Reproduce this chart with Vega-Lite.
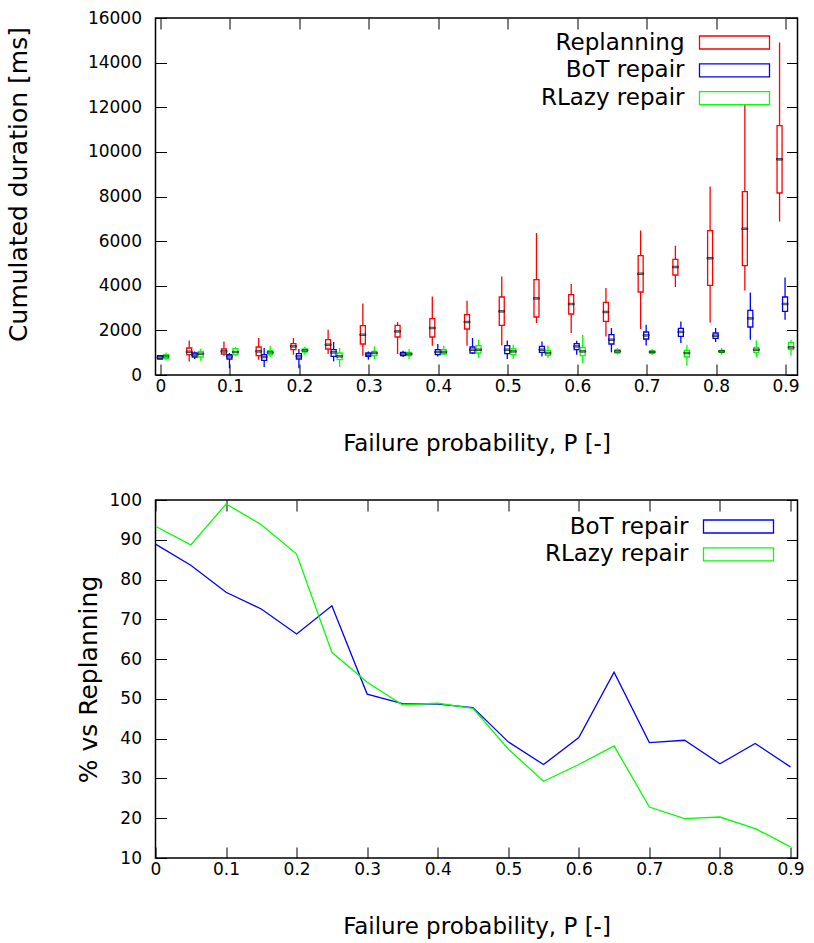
{
  "$schema": "https://vega.github.io/schema/vega-lite/v6.json",
  "padding": {"left": 5.5, "top": 8, "right": 16, "bottom": 5},
  "background": "white",
  "spacing": 125,
  "bounds": "flush",
  "config": {
    "font": "DejaVu Sans",
    "view": {"stroke": "black", "strokeWidth": 1.5},
    "axis": {
      "labelFont": "DejaVu Sans", "titleFont": "DejaVu Sans",
      "labelFontSize": 17, "titleFontSize": 23, "titleFontWeight": "normal",
      "labelColor": "black", "titleColor": "black",
      "ticks": false, "domain": false, "labelOverlap": false, "labelFlush": false,
      "grid": true, "gridColor": "black", "gridWidth": 1, "gridOpacity": 1
    },
    "axisX": {"gridDash": [11, 335], "labelPadding": 3, "titlePadding": 38.5},
    "axisY": {"gridDash": [11, 620], "labelPadding": 14, "titleFontSize": 25},
    "legend": {
      "orient": "none",
      "title": null,
      "symbolType": "M-5.385,-1L5.385,-1L5.385,1L-5.385,1Z",
      "symbolSize": 169, "symbolStrokeWidth": 1.3, "symbolFillColor": "white",
      "labelAlign": "right", "labelOffset": -61.5,
      "labelFont": "DejaVu Sans", "labelFontSize": 23, "labelColor": "black",
      "labelLimit": 0, "rowPadding": 3.8
    }
  },
  "datasets": {
    "boxes": [
      {"P": 0.05, "series": "Replanning", "min": 610, "q1": 910, "med": 1044, "q3": 1210, "max": 1551},
      {"P": 0.1, "series": "Replanning", "min": 865, "q1": 941, "med": 1058, "q3": 1165, "max": 1506},
      {"P": 0.15, "series": "Replanning", "min": 686, "q1": 865, "med": 1058, "q3": 1255, "max": 1658},
      {"P": 0.2, "series": "Replanning", "min": 910, "q1": 1134, "med": 1282, "q3": 1403, "max": 1658},
      {"P": 0.25, "series": "Replanning", "min": 941, "q1": 1165, "med": 1358, "q3": 1582, "max": 2030},
      {"P": 0.3, "series": "Replanning", "min": 865, "q1": 1389, "med": 1806, "q3": 2210, "max": 3200},
      {"P": 0.35, "series": "Replanning", "min": 941, "q1": 1703, "med": 1954, "q3": 2223, "max": 2375},
      {"P": 0.4, "series": "Replanning", "min": 1313, "q1": 1703, "med": 2106, "q3": 2523, "max": 3523},
      {"P": 0.45, "series": "Replanning", "min": 1313, "q1": 2062, "med": 2375, "q3": 2703, "max": 3330},
      {"P": 0.5, "series": "Replanning", "min": 1327, "q1": 2223, "med": 2851, "q3": 3496, "max": 4419},
      {"P": 0.55, "series": "Replanning", "min": 2331, "q1": 2600, "med": 3433, "q3": 4271, "max": 6364},
      {"P": 0.6, "series": "Replanning", "min": 1882, "q1": 2734, "med": 3182, "q3": 3599, "max": 4078},
      {"P": 0.65, "series": "Replanning", "min": 1730, "q1": 2402, "med": 2824, "q3": 3254, "max": 3899},
      {"P": 0.7, "series": "Replanning", "min": 2062, "q1": 3720, "med": 4540, "q3": 5347, "max": 6481},
      {"P": 0.75, "series": "Replanning", "min": 3944, "q1": 4482, "med": 4841, "q3": 5186, "max": 5795},
      {"P": 0.8, "series": "Replanning", "min": 2357, "q1": 4016, "med": 5231, "q3": 6468, "max": 8453},
      {"P": 0.85, "series": "Replanning", "min": 3792, "q1": 4899, "med": 6557, "q3": 8215, "max": 12666},
      {"P": 0.9, "series": "Replanning", "min": 6884, "q1": 8157, "med": 9667, "q3": 11173, "max": 14906},

      {"P": 0, "series": "BoT repair", "min": 690, "q1": 717, "med": 790, "q3": 865, "max": 900},
      {"P": 0.05, "series": "BoT repair", "min": 717, "q1": 807, "med": 896, "q3": 986, "max": 1058},
      {"P": 0.1, "series": "BoT repair", "min": 300, "q1": 717, "med": 834, "q3": 910, "max": 986},
      {"P": 0.15, "series": "BoT repair", "min": 359, "q1": 654, "med": 807, "q3": 910, "max": 1210},
      {"P": 0.2, "series": "BoT repair", "min": 300, "q1": 717, "med": 834, "q3": 955, "max": 1165},
      {"P": 0.25, "series": "BoT repair", "min": 610, "q1": 834, "med": 1013, "q3": 1134, "max": 1479},
      {"P": 0.3, "series": "BoT repair", "min": 686, "q1": 834, "med": 910, "q3": 986, "max": 1058},
      {"P": 0.35, "series": "BoT repair", "min": 807, "q1": 865, "med": 941, "q3": 1013, "max": 1089},
      {"P": 0.4, "series": "BoT repair", "min": 834, "q1": 910, "med": 1031, "q3": 1134, "max": 1389},
      {"P": 0.45, "series": "BoT repair", "min": 941, "q1": 986, "med": 1134, "q3": 1255, "max": 1658},
      {"P": 0.5, "series": "BoT repair", "min": 717, "q1": 955, "med": 1134, "q3": 1313, "max": 1551},
      {"P": 0.55, "series": "BoT repair", "min": 834, "q1": 1013, "med": 1134, "q3": 1282, "max": 1506},
      {"P": 0.6, "series": "BoT repair", "min": 910, "q1": 1134, "med": 1282, "q3": 1403, "max": 1537},
      {"P": 0.65, "series": "BoT repair", "min": 1013, "q1": 1389, "med": 1582, "q3": 1806, "max": 2106},
      {"P": 0.7, "series": "BoT repair", "min": 1327, "q1": 1613, "med": 1775, "q3": 1927, "max": 2254},
      {"P": 0.75, "series": "BoT repair", "min": 1434, "q1": 1730, "med": 1927, "q3": 2089, "max": 2402},
      {"P": 0.8, "series": "BoT repair", "min": 1479, "q1": 1640, "med": 1761, "q3": 1882, "max": 2106},
      {"P": 0.85, "series": "BoT repair", "min": 1582, "q1": 2151, "med": 2537, "q3": 2895, "max": 3702},
      {"P": 0.9, "series": "BoT repair", "min": 2479, "q1": 2851, "med": 3182, "q3": 3496, "max": 4375},

      {"P": 0, "series": "RLazy repair", "min": 654, "q1": 730, "med": 834, "q3": 910, "max": 1013},
      {"P": 0.05, "series": "RLazy repair", "min": 641, "q1": 807, "med": 955, "q3": 1058, "max": 1179},
      {"P": 0.1, "series": "RLazy repair", "min": 865, "q1": 910, "med": 1031, "q3": 1179, "max": 1255},
      {"P": 0.15, "series": "RLazy repair", "min": 807, "q1": 910, "med": 1013, "q3": 1089, "max": 1313},
      {"P": 0.2, "series": "RLazy repair", "min": 910, "q1": 1031, "med": 1103, "q3": 1165, "max": 1282},
      {"P": 0.25, "series": "RLazy repair", "min": 359, "q1": 686, "med": 834, "q3": 986, "max": 1210},
      {"P": 0.3, "series": "RLazy repair", "min": 717, "q1": 865, "med": 986, "q3": 1058, "max": 1282},
      {"P": 0.35, "series": "RLazy repair", "min": 717, "q1": 865, "med": 941, "q3": 1013, "max": 1165},
      {"P": 0.4, "series": "RLazy repair", "min": 910, "q1": 941, "med": 1031, "q3": 1134, "max": 1313},
      {"P": 0.45, "series": "RLazy repair", "min": 762, "q1": 986, "med": 1134, "q3": 1313, "max": 1582},
      {"P": 0.5, "series": "RLazy repair", "min": 717, "q1": 910, "med": 1058, "q3": 1179, "max": 1358},
      {"P": 0.55, "series": "RLazy repair", "min": 762, "q1": 879, "med": 986, "q3": 1103, "max": 1327},
      {"P": 0.6, "series": "RLazy repair", "min": 538, "q1": 865, "med": 1058, "q3": 1237, "max": 1793},
      {"P": 0.65, "series": "RLazy repair", "min": 910, "q1": 986, "med": 1058, "q3": 1134, "max": 1210},
      {"P": 0.7, "series": "RLazy repair", "min": 896, "q1": 986, "med": 1031, "q3": 1076, "max": 1165},
      {"P": 0.75, "series": "RLazy repair", "min": 417, "q1": 807, "med": 986, "q3": 1103, "max": 1358},
      {"P": 0.8, "series": "RLazy repair", "min": 910, "q1": 1013, "med": 1058, "q3": 1103, "max": 1210},
      {"P": 0.85, "series": "RLazy repair", "min": 807, "q1": 1013, "med": 1134, "q3": 1237, "max": 1551},
      {"P": 0.9, "series": "RLazy repair", "min": 865, "q1": 1134, "med": 1237, "q3": 1461, "max": 1582}
    ],
    "ratios": [
      {"P": 0, "series": "BoT repair", "pct": 88.9},
      {"P": 0.05, "series": "BoT repair", "pct": 83.6},
      {"P": 0.1, "series": "BoT repair", "pct": 76.8},
      {"P": 0.15, "series": "BoT repair", "pct": 72.6},
      {"P": 0.2, "series": "BoT repair", "pct": 66.3},
      {"P": 0.25, "series": "BoT repair", "pct": 73.4},
      {"P": 0.3, "series": "BoT repair", "pct": 51.2},
      {"P": 0.35, "series": "BoT repair", "pct": 48.8},
      {"P": 0.4, "series": "BoT repair", "pct": 48.7},
      {"P": 0.45, "series": "BoT repair", "pct": 47.8},
      {"P": 0.5, "series": "BoT repair", "pct": 39.2},
      {"P": 0.55, "series": "BoT repair", "pct": 33.5},
      {"P": 0.6, "series": "BoT repair", "pct": 40.3},
      {"P": 0.65, "series": "BoT repair", "pct": 56.7},
      {"P": 0.7, "series": "BoT repair", "pct": 39.0},
      {"P": 0.75, "series": "BoT repair", "pct": 39.6},
      {"P": 0.8, "series": "BoT repair", "pct": 33.7},
      {"P": 0.85, "series": "BoT repair", "pct": 38.8},
      {"P": 0.9, "series": "BoT repair", "pct": 32.9},
      {"P": 0, "series": "RLazy repair", "pct": 93.4},
      {"P": 0.05, "series": "RLazy repair", "pct": 88.7},
      {"P": 0.1, "series": "RLazy repair", "pct": 99.0},
      {"P": 0.15, "series": "RLazy repair", "pct": 93.8},
      {"P": 0.2, "series": "RLazy repair", "pct": 86.4},
      {"P": 0.25, "series": "RLazy repair", "pct": 61.7},
      {"P": 0.3, "series": "RLazy repair", "pct": 54.2},
      {"P": 0.35, "series": "RLazy repair", "pct": 48.5},
      {"P": 0.4, "series": "RLazy repair", "pct": 48.9},
      {"P": 0.45, "series": "RLazy repair", "pct": 47.6},
      {"P": 0.5, "series": "RLazy repair", "pct": 37.4},
      {"P": 0.55, "series": "RLazy repair", "pct": 29.3},
      {"P": 0.6, "series": "RLazy repair", "pct": 33.5},
      {"P": 0.65, "series": "RLazy repair", "pct": 38.2},
      {"P": 0.7, "series": "RLazy repair", "pct": 22.8},
      {"P": 0.75, "series": "RLazy repair", "pct": 19.9},
      {"P": 0.8, "series": "RLazy repair", "pct": 20.3},
      {"P": 0.85, "series": "RLazy repair", "pct": 17.4},
      {"P": 0.9, "series": "RLazy repair", "pct": 12.8}
    ]
  },
  "resolve": {"scale": {"stroke": "independent"}, "legend": {"stroke": "independent"}},
  "vconcat": [
    {
      "width": 642,
      "height": 357,
      "data": {"name": "boxes"},
      "encoding": {
        "x": {
          "field": "P", "type": "quantitative",
          "scale": {"domain": [0, 0.91], "nice": false, "zero": false},
          "axis": {
            "title": "Failure probability, P [-]",
            "values": [0, 0.1, 0.2, 0.3, 0.4, 0.5, 0.6, 0.7, 0.8, 0.9],
            "format": "~g"
          }
        },
        "stroke": {
          "field": "series", "type": "nominal",
          "scale": {"domain": ["Replanning", "BoT repair", "RLazy repair"], "range": ["#ff0000", "#0000ff", "#00ff00"]},
          "legend": {"legendX": 567.5, "legendY": 13}
        }
      },
      "layer": [
        {
          "transform": [{"filter": "datum.series === 'Replanning'"}],
          "layer": [
            {
              "mark": {"type": "rule", "clip": true, "strokeWidth": 1.3, "xOffset": -6},
              "encoding": {
                "y": {
                  "field": "min", "type": "quantitative",
                  "scale": {"domain": [0, 16000], "nice": false},
                  "axis": {
                    "title": "Cumulated duration [ms]",
                    "values": [0, 2000, 4000, 6000, 8000, 10000, 12000, 14000, 16000],
                    "format": "d", "titlePadding": 56, "titleY": 166
                  }
                },
                "y2": {"field": "max"}
              }
            },
            {
              "mark": {"type": "bar", "clip": true, "fill": "white", "width": 5, "strokeWidth": 1.3, "xOffset": -6},
              "encoding": {"y": {"field": "q1", "type": "quantitative", "title": "Cumulated duration [ms]"}, "y2": {"field": "q3"}}
            },
            {
              "mark": {"type": "tick", "orient": "horizontal", "clip": true, "size": 6, "thickness": 1.5, "xOffset": -6},
              "encoding": {"y": {"field": "med", "type": "quantitative", "title": "Cumulated duration [ms]"}, "stroke": {"value": "black"}}
            }
          ]
        },
        {
          "transform": [{"filter": "datum.series === 'BoT repair'"}],
          "layer": [
            {
              "mark": {"type": "rule", "clip": true, "strokeWidth": 1.3, "xOffset": -0.5},
              "encoding": {"y": {"field": "min", "type": "quantitative", "title": "Cumulated duration [ms]"}, "y2": {"field": "max"}}
            },
            {
              "mark": {"type": "bar", "clip": true, "fill": "white", "width": 5, "strokeWidth": 1.3, "xOffset": -0.5},
              "encoding": {"y": {"field": "q1", "type": "quantitative", "title": "Cumulated duration [ms]"}, "y2": {"field": "q3"}}
            },
            {
              "mark": {"type": "tick", "orient": "horizontal", "clip": true, "size": 6, "thickness": 1.5, "xOffset": -0.5},
              "encoding": {"y": {"field": "med", "type": "quantitative", "title": "Cumulated duration [ms]"}, "stroke": {"value": "black"}}
            }
          ]
        },
        {
          "transform": [{"filter": "datum.series === 'RLazy repair'"}],
          "layer": [
            {
              "mark": {"type": "rule", "clip": true, "strokeWidth": 1.3, "xOffset": 5.5},
              "encoding": {"y": {"field": "min", "type": "quantitative", "title": "Cumulated duration [ms]"}, "y2": {"field": "max"}}
            },
            {
              "mark": {"type": "bar", "clip": true, "fill": "white", "width": 5, "strokeWidth": 1.3, "xOffset": 5.5},
              "encoding": {"y": {"field": "q1", "type": "quantitative", "title": "Cumulated duration [ms]"}, "y2": {"field": "q3"}}
            },
            {
              "mark": {"type": "tick", "orient": "horizontal", "clip": true, "size": 6, "thickness": 1.5, "xOffset": 5.5},
              "encoding": {"y": {"field": "med", "type": "quantitative", "title": "Cumulated duration [ms]"}, "stroke": {"value": "black"}}
            }
          ]
        }
      ]
    },
    {
      "width": 642,
      "height": 358,
      "data": {"name": "ratios"},
      "mark": {"type": "line", "strokeWidth": 1.3, "clip": true},
      "encoding": {
        "x": {
          "field": "P", "type": "quantitative",
          "scale": {"domain": [0, 0.91], "nice": false, "zero": false},
          "axis": {
            "title": "Failure probability, P [-]",
            "values": [0, 0.1, 0.2, 0.3, 0.4, 0.5, 0.6, 0.7, 0.8, 0.9],
            "format": "~g", "gridDash": [11, 336]
          }
        },
        "y": {
          "field": "pct", "type": "quantitative",
          "scale": {"domain": [10, 100], "nice": false, "zero": false},
          "axis": {
            "title": "% vs Replanning",
            "values": [10, 20, 30, 40, 50, 60, 70, 80, 90, 100],
            "format": "d", "titlePadding": 8
          }
        },
        "stroke": {
          "field": "series", "type": "nominal",
          "scale": {"domain": ["BoT repair", "RLazy repair"], "range": ["#0000ff", "#00ff00"]},
          "legend": {"legendX": 571.5, "legendY": 15}
        }
      }
    }
  ]
}
